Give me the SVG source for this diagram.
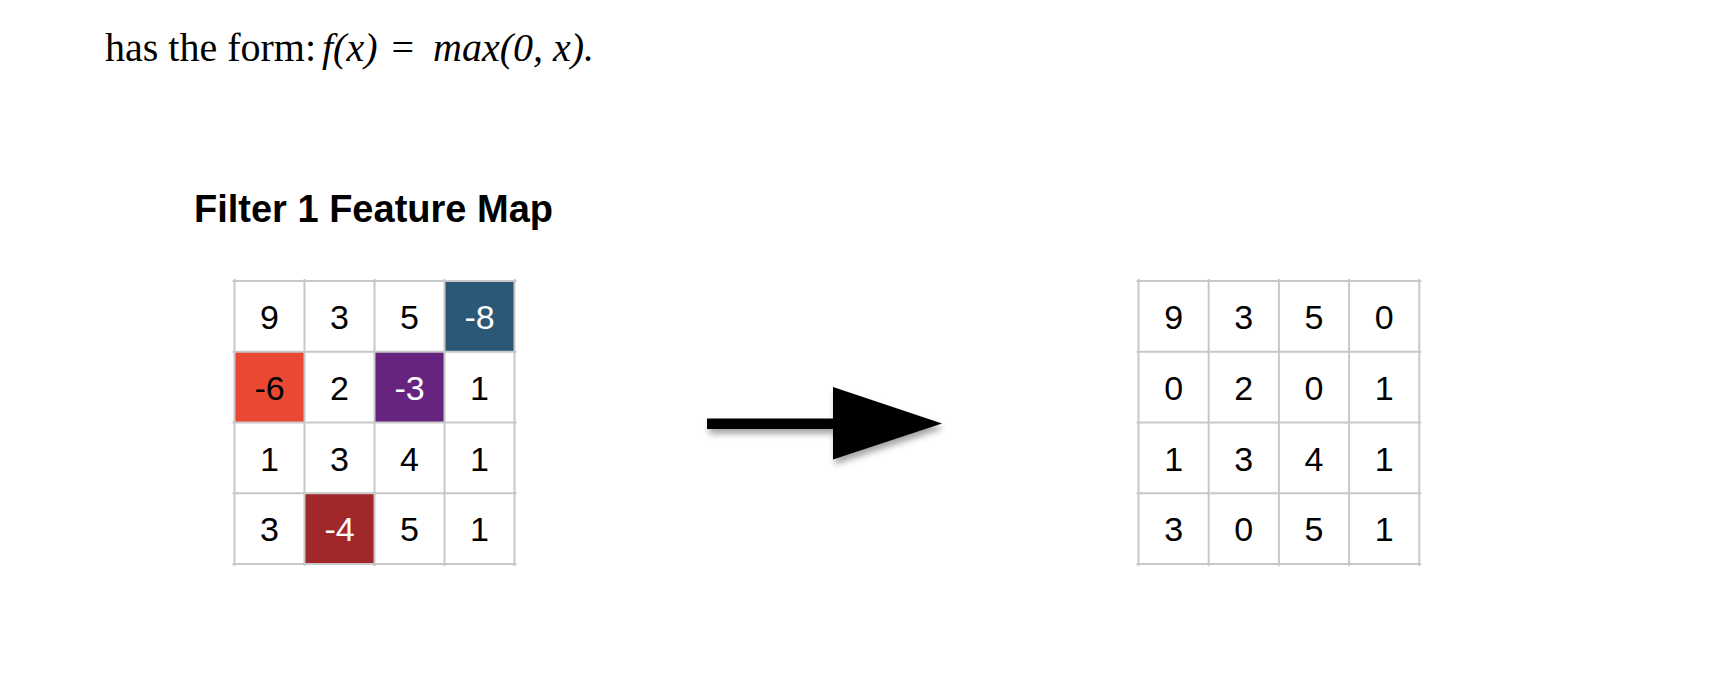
<svg xmlns="http://www.w3.org/2000/svg" width="1710" height="678" viewBox="0 0 1710 678">
<style>
.bg{fill:#ffffff}
.top{font-family:"Liberation Serif","Times New Roman",serif;font-size:40px;fill:#000}
.it{font-style:italic}
.title{font-family:"Liberation Sans",Arial,sans-serif;font-size:38px;font-weight:bold;fill:#000}
.num{font-family:"Liberation Sans",Arial,sans-serif;font-size:34px;fill:#000;text-anchor:middle}
.w{fill:#ffffff}
.grid{stroke:#c8c8c8;stroke-width:2;fill:none}
.arrow{fill:#000}
</style>
<defs>
<filter id="shadow" x="-20%" y="-30%" width="140%" height="170%">
<feDropShadow dx="2" dy="5" stdDeviation="3" flood-color="#000" flood-opacity="0.35"/>
</filter>
</defs>
<rect class="bg" x="0" y="0" width="1710" height="678"/>
<text class="top" y="61"><tspan x="105">has the form:</tspan><tspan class="it" x="322">f(x)</tspan><tspan x="391.5">=</tspan><tspan class="it" x="433">max(0, x).</tspan></text>
<text class="title" x="194" y="222">Filter 1 Feature Map</text>

<g id="feature-map">
<rect x="444.5" y="281" width="70" height="70.75" fill="#2b5877"/>
<rect x="234.5" y="351.75" width="70" height="70.75" fill="#e94833"/>
<rect x="374.5" y="351.75" width="70" height="70.75" fill="#662480"/>
<rect x="304.5" y="493.25" width="70" height="70.75" fill="#a1282a"/>
<path class="grid" d="M234.5 279V566M304.5 279V566M374.5 279V566M444.5 279V566M514.5 279V566M232.5 281H516.5M232.5 351.75H516.5M232.5 422.5H516.5M232.5 493.25H516.5M232.5 564H516.5"/>
<text class="num" x="269.5" y="329">9</text>
<text class="num" x="339.5" y="329">3</text>
<text class="num" x="409.5" y="329">5</text>
<text class="num w" x="479.5" y="329">-8</text>
<text class="num" x="269.5" y="399.7">-6</text>
<text class="num" x="339.5" y="399.7">2</text>
<text class="num w" x="409.5" y="399.7">-3</text>
<text class="num" x="479.5" y="399.7">1</text>
<text class="num" x="269.5" y="470.5">1</text>
<text class="num" x="339.5" y="470.5">3</text>
<text class="num" x="409.5" y="470.5">4</text>
<text class="num" x="479.5" y="470.5">1</text>
<text class="num" x="269.5" y="541.2">3</text>
<text class="num w" x="339.5" y="541.2">-4</text>
<text class="num" x="409.5" y="541.2">5</text>
<text class="num" x="479.5" y="541.2">1</text>
</g>

<g id="rectified-map">
<path class="grid" d="M1138.5 279V566M1208.7 279V566M1278.9 279V566M1349.1 279V566M1419.3 279V566M1136.5 281H1421.3M1136.5 351.75H1421.3M1136.5 422.5H1421.3M1136.5 493.25H1421.3M1136.5 564H1421.3"/>
<text class="num" x="1173.6" y="329">9</text>
<text class="num" x="1243.8" y="329">3</text>
<text class="num" x="1314" y="329">5</text>
<text class="num" x="1384.2" y="329">0</text>
<text class="num" x="1173.6" y="399.7">0</text>
<text class="num" x="1243.8" y="399.7">2</text>
<text class="num" x="1314" y="399.7">0</text>
<text class="num" x="1384.2" y="399.7">1</text>
<text class="num" x="1173.6" y="470.5">1</text>
<text class="num" x="1243.8" y="470.5">3</text>
<text class="num" x="1314" y="470.5">4</text>
<text class="num" x="1384.2" y="470.5">1</text>
<text class="num" x="1173.6" y="541.2">3</text>
<text class="num" x="1243.8" y="541.2">0</text>
<text class="num" x="1314" y="541.2">5</text>
<text class="num" x="1384.2" y="541.2">1</text>
</g>

<g id="connectors">
<g filter="url(#shadow)">
<rect class="arrow" x="707" y="418.5" width="128" height="10.5"/>
<polygon class="arrow" points="833,387 942,423.5 833,459.5"/>
</g>
</g>
</svg>
